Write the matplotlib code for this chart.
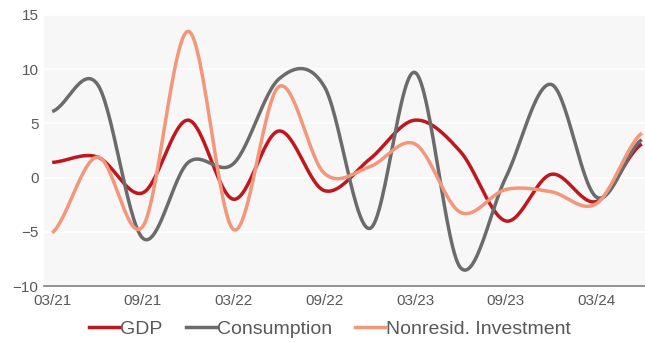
import numpy as np
import matplotlib
matplotlib.use("Agg")
import matplotlib.pyplot as plt
from matplotlib.lines import Line2D

plt.rcParams['font.family'] = ['Liberation Sans', 'DejaVu Sans']

quarters = ["03/21", "06/21", "09/21", "12/21", "03/22", "06/22", "09/22",
            "12/22", "03/23", "06/23", "09/23", "12/23", "03/24", "06/24"]
gdp = [1.4, 1.9, -1.4, 5.3, -2.0, 4.3, -1.2, 1.7, 5.3, 2.4, -4.0, 0.3, -2.2, 3.1]
consumption = [6.1, 8.6, -5.6, 1.4, 1.3, 9.1, 8.4, -4.7, 9.7, -8.3, 0.0, 8.6, -1.8, 3.5]
nonresid_inv = [-5.1, 1.9, -4.5, 13.5, -4.8, 8.4, 0.4, 1.0, 3.1, -3.2, -1.1, -1.3, -2.4, 4.1]

series = [("GDP", gdp, "#C0161E"),
          ("Consumption", consumption, "#6B6B6B"),
          ("Nonresid. Investment", nonresid_inv, "#F4967A")]


def smooth(values, steps=30):
    """Catmull-Rom spline through every point (spreadsheet-style smoothed line)."""
    y = np.asarray(values, dtype=float)
    n = len(y)
    ext = np.concatenate([[y[0]], y, [y[-1]]])
    xs, ys = [], []
    for i in range(n - 1):
        p0, p1, p2, p3 = ext[i], ext[i + 1], ext[i + 2], ext[i + 3]
        t = np.linspace(0, 1, steps, endpoint=(i == n - 2))
        m1 = (p2 - p0) / 2
        m2 = (p3 - p1) / 2
        h00 = 2 * t**3 - 3 * t**2 + 1
        h10 = t**3 - 2 * t**2 + t
        h01 = -2 * t**3 + 3 * t**2
        h11 = t**3 - t**2
        xs.append(i + t)
        ys.append(h00 * p1 + h10 * m1 + h01 * p2 + h11 * m2)
    return np.concatenate(xs), np.concatenate(ys)


fig = plt.figure(figsize=(6.45, 3.43), dpi=100)
ax = fig.add_axes([44 / 645, 1 - 286 / 343, (645 - 44) / 645, (286 - 15) / 343])
ax.set_facecolor("#F7F7F7")

for name, vals, col in series:
    sx, sy = smooth(vals)
    ax.plot(sx, sy, color=col, lw=2.5, solid_capstyle="butt", zorder=3)

ax.set_ylim(-10, 15)
ax.set_yticks(range(-10, 16, 5))
ax.set_xlim(-0.18, 13.07)
ax.set_xticks(range(0, len(quarters), 2))
ax.set_xticklabels(quarters[::2])
ax.grid(axis="y", color="white", lw=1.2, zorder=1)
ax.set_axisbelow(True)
for s in ["top", "right", "left"]:
    ax.spines[s].set_visible(False)
ax.spines["bottom"].set_color("#7F7F7F")
ax.spines["bottom"].set_linewidth(1.2)
ax.tick_params(axis="both", length=0, labelsize=11, colors="#595959", pad=6)
ax.tick_params(axis="y", pad=4)

handles = [Line2D([0], [0], color=c, lw=2.5) for _, _, c in series]
fig.legend(handles, [n for n, _, _ in series], loc="center",
           bbox_to_anchor=(330 / 645, 1 - 329 / 343), ncol=3, frameon=False,
           fontsize=14, labelcolor="#595959", handlelength=1.55, handletextpad=0.05,
           columnspacing=1.2, borderpad=0)

fig.savefig("out.png", dpi=100)
